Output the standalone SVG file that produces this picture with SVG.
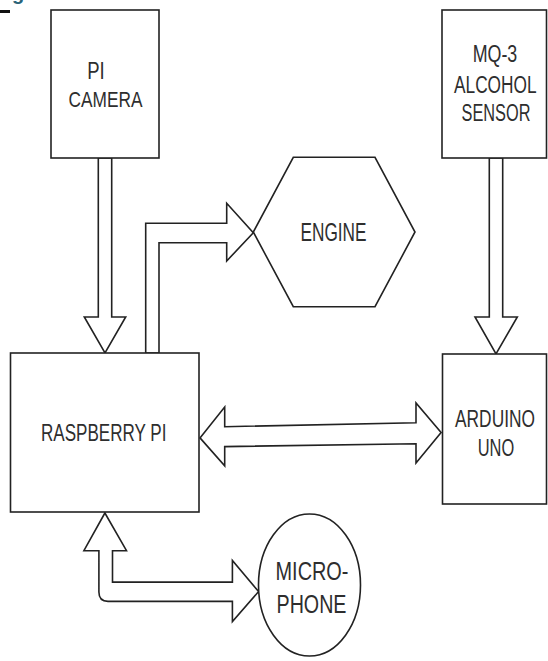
<svg xmlns="http://www.w3.org/2000/svg" width="548" height="661" viewBox="0 0 548 661">
<style>
.box{fill:#fff;stroke:#222;stroke-width:1.6}
.arr{fill:#fff;stroke:#222;stroke-width:1.6;stroke-linejoin:miter}
.t{font-family:"Liberation Sans",Arial,sans-serif;fill:#2e2e2e;text-anchor:middle}
</style>
<rect width="548" height="661" fill="#fff"/>
<text x="12" y="0" style="font-family:'Liberation Sans',Arial,sans-serif;font-weight:bold;font-size:20px;fill:#2a6478">g</text>
<rect x="0" y="10" width="10" height="3" fill="#111"/>
<g id="connectors">
<polygon class="arr" points="98.3,158 111.7,158 111.7,317 125.7,317 105,353 84.3,317 98.3,317"/>
<polygon class="arr" points="489.3,158 502.7,158 502.7,317 517.3,317 496,354 475,317 489.3,317"/>
<polygon class="arr" points="145.7,353 145.7,223.3 226.7,223.3 226.7,203.3 253.3,232.7 226.7,261 226.7,242.7 159,242.7 159,353"/>
<polygon class="arr" points="200,437.9 224.7,407.1 224.7,426.7 416,422.8 416,402.9 441.1,432.6 416,463 416,443.8 224.7,446.6 224.7,465.8"/>
<path class="arr" d="M104.9,513 L126.5,550.7 L112.5,550.7 L112.5,582.1 L232.4,582.1 L232.4,560.5 L258.6,591.6 L232.4,621.6 L232.4,601.4 L108,601.4 Q98.9,601.4 98.9,592 L98.9,550.7 L83.9,550.7 Z"/>
</g>
<g id="pi-camera">
<rect class="box" x="51" y="10" width="108" height="148"/>
<text class="t" transform="matrix(0.805,0,0,1,96,79)" font-size="23">PI</text>
<text class="t" transform="matrix(0.752,0,0,1,105.5,106.7)" font-size="23">CAMERA</text>
</g>
<g id="mq3-sensor">
<rect class="box" x="442" y="10" width="104.5" height="148"/>
<text class="t" transform="matrix(0.759,0,0,1,495,62)" font-size="23.5">MQ-3</text>
<text class="t" transform="matrix(0.736,0,0,1,495.3,93)" font-size="23.5">ALCOHOL</text>
<text class="t" transform="matrix(0.695,0,0,1,496,121)" font-size="23.5">SENSOR</text>
</g>
<g id="engine">
<polygon class="box" points="293.3,157.3 375,157.3 415,232 375,306.7 293.3,306.7 253.3,232"/>
<text class="t" transform="matrix(0.689,0,0,1,333.5,241)" font-size="25">ENGINE</text>
</g>
<g id="raspberry-pi">
<rect class="box" x="10.5" y="353" width="188.5" height="159"/>
<text class="t" transform="matrix(0.742,0,0,1,103.7,441)" font-size="23">RASPBERRY PI</text>
</g>
<g id="arduino-uno">
<rect class="box" x="442.5" y="354" width="104" height="150"/>
<text class="t" transform="matrix(0.738,0,0,1,495,427)" font-size="23.5">ARDUINO</text>
<text class="t" transform="matrix(0.699,0,0,1,496,456)" font-size="23.5">UNO</text>
</g>
<g id="microphone">
<ellipse class="box" cx="309.5" cy="585" rx="51" ry="71"/>
<text class="t" transform="matrix(0.781,0,0,1,312,580)" font-size="25.5">MICRO-</text>
<text class="t" transform="matrix(0.772,0,0,1,311.5,613)" font-size="25.5">PHONE</text>
</g>
</svg>
